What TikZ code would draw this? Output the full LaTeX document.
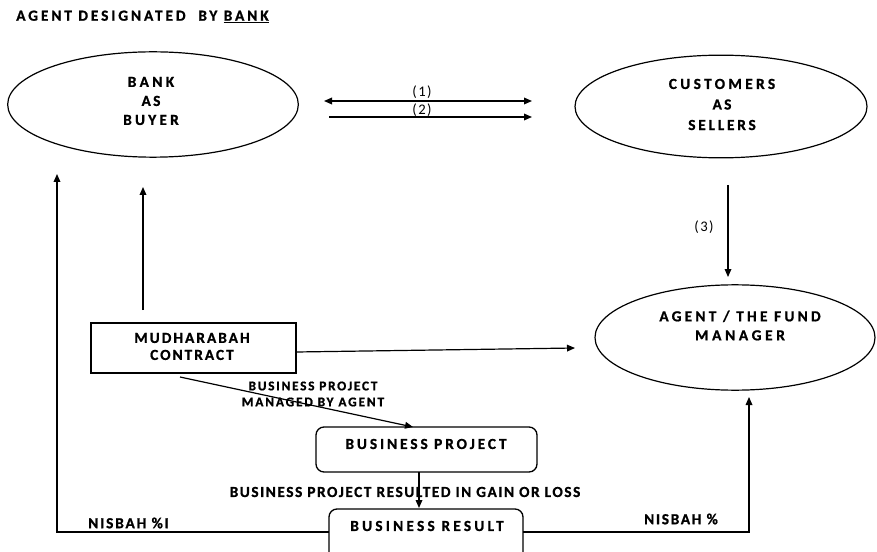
\documentclass[tikz,border=0pt]{standalone}
\usepackage{fontspec}
\setmainfont{Carlito}[BoldFeatures={FakeBold=1}]
\usetikzlibrary{shapes.geometric,arrows.meta}
\newcommand{\lsp}[1]{\addfontfeatures{LetterSpace=#1}}
\begin{document}
\begin{tikzpicture}[x=0.75pt,y=-0.75pt,
  ell/.style={draw, ellipse, line width=0.9pt, inner sep=0pt},
  sqbox/.style={draw, line width=1pt, inner sep=0pt},
  rbox/.style={draw, rounded corners=6pt, line width=1pt, inner sep=0pt},
  txt/.style={font=\bfseries\fontsize{11.5}{14}\selectfont, align=center, inner sep=0pt},
  arr/.style={line width=0.9pt, -{Triangle[length=6pt,width=5pt]}},
  darr/.style={line width=0.9pt, {Triangle[length=6pt,width=5pt]}-{Triangle[length=6pt,width=5pt]}}]
\useasboundingbox (0,0) rectangle (877,552);

% title
\node[txt, anchor=west] (title) at (16,17) {\lsp{19}AGENT DESIGNATED\ \ BY \underline{BANK}};

% ellipses
\node[ell, minimum width=218pt, minimum height=79pt] (bank) at (153,104.5) {};
\node[txt, font=\bfseries\fontsize{11.5}{14.25}\selectfont] (banktxt) at (151,101) {\lsp{22}BANK\\\lsp{15}AS\\\lsp{21}BUYER};

\node[ell, minimum width=219pt, minimum height=77pt] (cust) at (721,106.5) {};
\node[txt, font=\bfseries\fontsize{11.5}{15.4}\selectfont] (custtxt) at (722,104.5) {\lsp{22}CUSTOMERS\\\lsp{15}AS\\\lsp{18}SELLERS};

\node[ell, minimum width=210pt, minimum height=79pt] (agent) at (735,337.5) {};
\node[txt, font=\bfseries\fontsize{11.5}{14.25}\selectfont] (agenttxt) at (740,325.5) {\lsp{21}AGENT / THE FUND\\\lsp{24}MANAGER};

% boxes
\node[sqbox, minimum width=153.75pt, minimum height=37.5pt] (mudh) at (193.5,348) {};
\node[txt, font=\bfseries\fontsize{11.5}{12.75}\selectfont] (mudhtxt) at (192,346.5) {\lsp{13}MUDHARABAH\\\lsp{13}CONTRACT};

\node[rbox, minimum width=165.75pt, minimum height=33.75pt] (bp) at (426.5,449.5) {};
\node[txt] (bptxt) at (426,444) {\lsp{19}BUSINESS PROJECT};

\node[rbox, minimum width=145.5pt, minimum height=42pt] (br) at (426,537) {};
\node[txt] (brtxt) at (427,526) {\lsp{21}BUSINESS RESULT};

% connector end points
\coordinate (a1s) at (324,101);
\coordinate (a1e) at (532,101);
\coordinate (a2s) at (329,117);
\coordinate (a2e) at (532,117);
\coordinate (a3s) at (728,185);
\coordinate (a3e) at (728,277);
\coordinate (mus) at (143,310);
\coordinate (mue) at (143,187);
\coordinate (mas) at (296,352);
\coordinate (mae) at (575,348);
\coordinate (mds) at (180,377);
\coordinate (mde) at (413,427);
\coordinate (bps) at (419,472);
\coordinate (bpe) at (419,508);
\coordinate (brl) at (329,532);
\coordinate (ltop) at (57,174);
\coordinate (brr) at (523,532);
\coordinate (rtop) at (749,397);

% connectors
\draw[darr] (a1s) -- (a1e);
\draw[arr] (a2s) -- (a2e);
\node[txt, font=\fontsize{11}{12}\selectfont] (l1) at (422,92) {\lsp{10}(1)};
\node[txt, font=\fontsize{11}{12}\selectfont] (l2) at (422,110) {\lsp{10}(2)};

\draw[arr] (a3s) -- (a3e);
\node[txt, font=\fontsize{11}{12}\selectfont] (l3) at (704,227) {\lsp{10}(3)};

\draw[arr] (mus) -- (mue);
\draw[arr] (mas) -- (mae);
\draw[arr] (mds) -- (mde);
\node[txt, font=\bfseries\fontsize{10}{12}\selectfont] (mdlbl) at (313,394) {\lsp{13}BUSINESS PROJECT\\\lsp{14}MANAGED BY AGENT};

\draw[arr] (bps) -- (bpe);
\node[txt] (gainlbl) at (405,492) {\lsp{10}BUSINESS PROJECT RESULTED IN GAIN OR LOSS};

\draw[arr] (brl) -| (ltop);
\draw[arr] (brr) -| (rtop);
\node[txt] (nisl) at (128.5,523) {\lsp{12}NISBAH \%I};
\node[txt] (nisr) at (681,519) {\lsp{11}NISBAH \%};
\end{tikzpicture}
\end{document}
